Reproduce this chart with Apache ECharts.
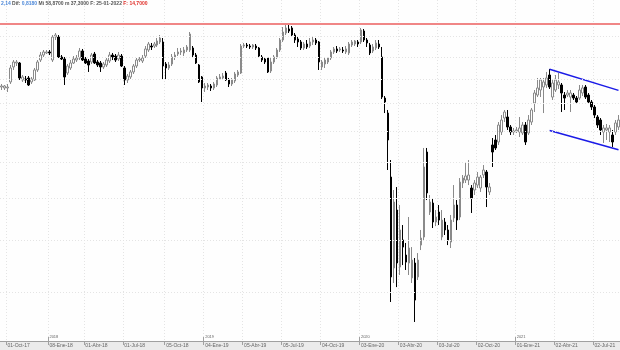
<!DOCTYPE html>
<html><head><meta charset="utf-8">
<script src="https://cdn.jsdelivr.net/npm/echarts@6/dist/echarts.min.js"></script>
<style>html,body{margin:0;padding:0;background:#fff}#c{width:620px;height:350px}</style>
</head><body><div id="c"></div>
<script>
// weekly candles, first week and count
const firstWeek = '2017-09-15';
const weekCount = 207;

const opens = [48.32,48.12,48.12,49.38,52.67,53.58,53.58,49.80,50.02,50.23,49.38,49.80,51.99,54.27,55.45,55.94,56.18,54.27,59.92,59.92,
54.98,54.51,51.32,52.44,53.58,54.27,54.74,56.42,54.51,54.04,53.81,55.69,53.81,53.58,52.67,53.12,54.04,55.45,55.21,54.51,
55.21,52.44,49.80,50.45,51.55,52.89,54.27,54.04,55.21,56.66,57.64,57.64,57.89,58.65,58.65,53.35,52.44,53.35,54.98,55.69,
56.18,55.94,56.66,56.66,57.15,55.45,53.12,50.45,48.12,48.32,48.53,48.12,48.74,50.02,50.23,51.32,49.80,48.95,49.59,50.88,
51.32,57.64,57.89,57.64,57.40,57.64,57.15,54.98,54.51,54.74,51.77,53.81,54.98,56.66,59.15,60.96,62.02,62.29,60.43,59.41,
58.65,57.15,58.14,57.64,58.65,59.15,58.65,52.67,53.35,53.81,54.74,56.18,56.91,56.66,56.66,56.18,55.94,57.89,58.14,58.65,
58.65,61.49,59.15,57.89,56.42,57.15,58.14,54.98,46.08,43.20,32.80,22.18,28.46,22.27,25.02,23.45,22.66,21.25,22.66,21.34,
24.48,25.34,36.53,28.22,29.33,27.03,28.22,25.34,27.03,26.12,24.80,27.50,29.08,27.62,31.97,32.38,32.38,31.29,31.02,31.69,
31.29,33.09,33.52,30.76,37.65,38.47,38.14,39.82,42.28,42.47,40.68,39.82,39.99,39.82,39.64,41.03,39.64,41.56,45.11,46.68,
47.70,48.32,48.74,50.88,46.28,47.70,48.74,48.74,46.68,46.68,46.28,46.68,46.08,46.08,47.09,48.32,46.68,45.30,44.34,42.47,
41.92,39.82,40.16,39.82,39.30,39.82,40.68];

const closes = [48.53,48.53,48.32,52.44,53.81,53.81,50.23,50.45,49.80,48.74,50.02,51.99,53.81,55.45,56.18,56.18,55.94,59.92,60.43,54.98,
54.51,50.45,52.89,53.58,54.51,54.74,56.42,54.27,53.58,53.12,55.45,53.58,53.12,52.67,53.35,54.27,55.45,54.98,54.27,55.45,
52.89,49.80,50.66,51.55,52.89,54.27,54.51,54.74,56.91,58.14,57.40,58.14,58.90,59.66,52.89,52.44,53.12,54.98,55.45,56.18,
56.42,56.66,57.40,60.69,55.45,53.58,49.38,48.12,48.53,48.74,48.12,48.95,50.23,50.45,50.66,49.80,48.95,49.80,51.10,51.55,
57.64,57.89,57.64,57.40,57.89,57.15,55.21,54.27,53.81,51.55,53.81,54.98,56.66,59.15,61.22,62.29,61.49,60.43,59.15,58.65,
57.15,58.14,57.40,58.65,59.15,58.40,53.81,53.81,54.27,54.74,56.18,56.91,56.42,56.91,56.42,56.91,58.14,58.65,58.90,58.14,
61.75,59.15,58.40,55.94,57.40,58.40,57.40,46.28,45.30,38.47,21.34,29.46,22.66,26.12,24.27,22.75,24.17,22.95,19.32,22.95,
25.23,34.25,30.63,29.46,27.03,27.62,27.26,27.26,26.12,25.02,27.26,29.08,27.26,32.10,32.66,32.95,33.09,29.97,31.97,32.80,
32.80,33.81,31.42,31.42,36.53,37.17,41.03,41.92,43.39,40.68,39.82,39.99,40.16,40.51,41.03,38.14,41.92,43.77,47.09,48.12,
49.80,49.38,50.23,48.32,49.16,49.80,49.38,47.09,46.08,47.09,47.09,46.08,45.30,47.70,48.12,46.28,45.30,44.34,42.83,41.03,
40.16,40.51,40.51,40.51,38.14,41.39,41.92];

const lows = [47.70,47.70,47.29,48.95,51.99,52.89,49.80,49.38,49.16,48.53,48.95,49.59,51.55,53.81,54.98,55.69,55.45,53.81,59.15,54.74,
54.27,48.74,50.88,51.99,53.35,53.81,54.27,54.04,53.35,51.55,53.35,53.35,52.67,51.55,52.22,52.67,53.58,54.27,53.81,54.04,
52.67,48.74,49.16,50.02,51.10,52.44,53.81,53.58,54.74,56.18,56.66,57.15,57.40,58.14,49.80,49.80,51.99,52.89,54.27,55.21,
55.45,55.21,56.18,56.18,54.98,53.35,49.16,45.30,47.29,47.70,47.50,47.70,48.32,49.80,49.80,49.59,48.32,48.53,49.16,50.45,
51.10,57.15,57.15,56.91,56.91,56.66,54.74,53.81,53.35,51.32,51.32,53.35,54.51,56.18,58.65,60.43,60.96,60.17,58.40,57.40,
56.66,56.66,56.91,57.15,57.89,57.89,51.99,51.99,52.44,53.35,54.27,55.69,55.94,56.18,55.94,55.69,55.45,57.40,57.64,57.40,
58.14,58.65,57.40,55.45,55.94,56.66,56.91,45.89,43.20,33.81,19.16,20.79,20.43,21.52,22.46,21.99,21.52,20.79,17.58,21.06,
23.96,25.02,29.71,27.86,26.34,26.56,26.68,25.02,25.56,24.48,24.17,27.03,26.12,27.26,31.29,31.97,31.69,28.10,30.36,31.29,
30.76,32.66,28.83,30.36,34.25,36.85,37.65,39.30,41.56,40.16,39.30,39.30,39.64,38.97,39.30,37.65,39.30,41.03,43.39,46.28,
46.28,43.20,48.12,47.91,45.69,47.29,47.91,43.39,43.77,46.28,43.39,45.69,44.91,45.69,46.48,45.89,44.91,43.77,42.28,40.51,
39.30,37.98,38.47,38.14,37.33,39.30,40.16];

const highs = [48.95,48.74,48.95,53.12,54.27,54.27,53.81,50.88,50.66,50.66,50.45,52.44,54.27,56.18,56.66,56.66,56.66,60.43,60.96,60.43,
55.45,54.98,53.35,54.27,55.21,55.45,57.15,56.91,54.98,54.51,55.94,56.18,54.27,54.04,53.81,54.74,56.18,55.94,55.69,56.18,
55.69,52.89,51.10,51.99,53.35,54.74,54.98,55.45,57.64,58.65,58.40,58.65,59.66,60.43,59.66,53.81,53.81,55.69,56.18,57.15,
57.15,57.40,57.89,61.22,57.64,55.94,53.35,50.66,49.16,49.16,48.95,49.38,50.66,51.10,51.32,51.77,50.23,50.23,51.55,51.99,
58.14,58.40,58.40,58.14,58.14,58.14,57.40,55.45,54.98,54.98,54.74,55.45,57.15,59.66,62.55,63.09,63.09,62.82,60.96,60.17,
59.15,58.65,59.15,59.66,59.92,59.66,58.90,54.27,54.74,54.98,56.66,57.40,57.64,57.40,57.40,57.64,58.65,59.15,59.15,59.15,
62.29,62.02,59.66,58.40,58.14,59.15,59.15,57.40,46.48,43.77,35.29,31.02,31.42,29.08,26.68,24.70,27.62,24.27,23.15,23.65,
26.12,37.17,37.17,30.36,29.97,28.46,29.08,28.46,27.50,26.68,27.86,31.69,29.71,32.66,33.09,34.99,35.29,31.69,32.38,33.52,
33.09,34.54,33.81,31.97,38.80,39.30,41.56,42.83,43.77,43.77,41.03,40.51,40.68,42.47,41.56,41.56,42.83,44.15,47.70,50.23,
50.23,50.23,51.55,52.22,49.80,50.88,51.32,49.16,47.29,47.70,47.70,47.09,46.48,48.74,48.74,48.74,47.09,45.69,44.72,42.83,
42.28,41.03,41.21,41.03,40.16,41.92,42.83];

// quarter tick labels (week of the tick -> text)
const tickWeeks = ['2017-09-29','2018-01-05','2018-03-30','2018-06-29','2018-10-05','2019-01-04','2019-04-05','2019-07-05',
  '2019-10-04','2020-01-03','2020-04-03','2020-07-03','2020-10-02','2021-01-01','2021-04-02','2021-07-02'];
const tickTexts = ['01-Oct-17','08-Ene-18','01-Abr-18','01-Jul-18','05-Oct-18','04-Ene-19','05-Abr-19','05-Jul-19',
  '04-Oct-19','03-Ene-20','03-Abr-20','03-Jul-20','02-Oct-20','01-Ene-21','02-Abr-21','02-Jul-21'];
const yearWeeks = ['2018-01-05','2019-01-04','2020-01-03','2021-01-01'];
const yearTexts = ['2018','2019','2020','2021'];

const gridLevels = [20,25,30,35,40,45,50,55,60];
const resistanceLevel = 63.45;
const upperChannel = [['2021-03-19',52.17],['2021-08-27',47.63]];
const lowerChannel = [['2021-03-19',40.09],['2021-08-27',36.90]];

const headerParts = [['b','2,14'],['g','Dif:'],['b','0,8180'],['g','Mi 58,8700'],['g','m 37,3000'],['g','F: 25-01-2022'],['r','F: 14,7000']];

// ---- build ----
const weeks = [];
const t0 = Date.parse(firstWeek + 'T00:00:00Z');
for (let i = 0; i < weekCount; i++) weeks.push(new Date(t0 + i * 7 * 86400000).toISOString().slice(0, 10));
const tickMap = {}; tickWeeks.forEach((w, k) => tickMap[w] = tickTexts[k]);
const yearMap = {}; yearWeeks.forEach((w, k) => yearMap[w] = yearTexts[k]);
const isTick = (i, v) => tickMap[weeks[i]] !== undefined;
const isYear = (i, v) => yearMap[weeks[i]] !== undefined;
const candles = opens.map((o, i) => [o, closes[i], lows[i], highs[i]]);

const chart = echarts.init(document.getElementById('c'), null, {renderer: 'canvas'});
chart.setOption({
  animation: false,
  backgroundColor: '#ebebeb',
  title: {
    text: headerParts.map(p => '{' + p[0] + '|' + p[1] + '}').join(' '),
    left: 1, top: 1, padding: 0,
    textStyle: {fontSize: 5, fontFamily: 'Liberation Sans',
      rich: {b: {color: '#4a86d8', fontSize: 5, fontFamily: 'Liberation Sans'},
             g: {color: '#555', fontSize: 5, fontFamily: 'Liberation Sans'},
             r: {color: '#e0302a', fontSize: 5, fontFamily: 'Liberation Sans'}}}
  },
  grid: {left: -1, right: 0, top: 0, bottom: 9, show: true, backgroundColor: '#fefefe', borderWidth: 0},
  xAxis: [{
    type: 'category', data: weeks, boundaryGap: true, position: 'bottom',
    axisLine: {show: true, onZero: false, lineStyle: {color: '#a0a0a0', width: 1}},
    axisTick: {show: true, interval: isTick, length: 4, lineStyle: {color: '#a0a0a0'}},
    axisLabel: {show: true, interval: isTick, formatter: v => tickMap[v] || '', align: 'left',
      fontSize: 5, fontFamily: 'Liberation Sans', color: '#666', margin: 2, padding: [0, 0, 0, 0]},
    splitLine: {show: true, interval: isTick, lineStyle: {color: '#e4e4e4', width: 1, type: [1, 2]}}
  }, {
    type: 'category', data: weeks, boundaryGap: true, position: 'bottom', gridIndex: 0,
    axisLine: {show: false, onZero: false},
    axisTick: {show: true, inside: true, interval: isYear, length: 4, lineStyle: {color: '#a0a0a0'}},
    axisLabel: {show: true, inside: true, interval: isYear, formatter: v => yearMap[v] || '', align: 'left',
      fontSize: 4, fontFamily: 'Liberation Sans', color: '#666', margin: 2},
    splitLine: {show: false}
  }],
  yAxis: {type: 'log', logBase: 10, min: 16.2, max: 70.26, show: false},
  series: [{
    type: 'line', data: [], z: 1, silent: true,
    markLine: {
      silent: true, symbol: ['none', 'none'], label: {show: false}, animation: false,
      lineStyle: {color: '#e4e4e4', width: 1, type: [1, 2]},
      data: gridLevels.map(v => ({yAxis: v}))
        .concat([{yAxis: resistanceLevel, lineStyle: {color: '#f08686', width: 2, type: 'solid'}}])
    }
  }, {
    type: 'candlestick', data: candles, xAxisIndex: 0, barWidth: 2, z: 3,
    itemStyle: {color: '#ffffff', color0: '#000000', borderColor: '#8a8a8a', borderColor0: '#000000', borderWidth: 1}
  }, {
    type: 'line', data: upperChannel, symbol: 'none', z: 4, silent: true,
    lineStyle: {color: '#1a1ae6', width: 1.5}
  }, {
    type: 'line', data: lowerChannel, symbol: 'none', z: 4, silent: true,
    lineStyle: {color: '#1a1ae6', width: 1.5}
  }]
});
</script></body></html>
